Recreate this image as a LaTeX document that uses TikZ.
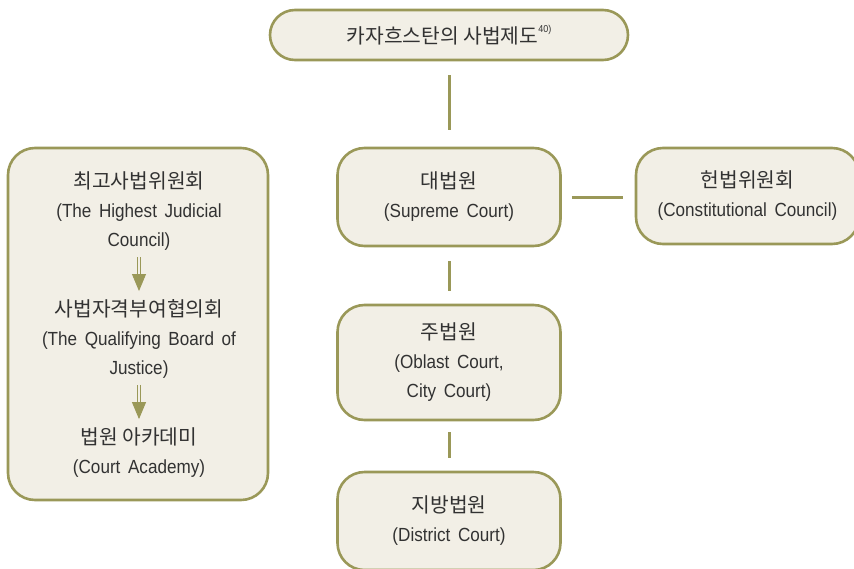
\documentclass[tikz,border=0pt]{standalone}
\usepackage{fontspec}
\setmainfont{Liberation Sans}[FakeStretch=0.9,WordSpace=1.6]
\newfontfamily\kr{Noto Sans CJK KR}[Scale=1.07]
\usetikzlibrary{arrows.meta}

\definecolor{rim}{RGB}{154,152,88}
\definecolor{paper}{RGB}{242,239,230}
\definecolor{ink}{RGB}{50,50,50}

\begin{document}
\begin{tikzpicture}[x=1pt,y=-1pt,
	every node/.style={font=\fontsize{19}{29}\selectfont,text=ink,align=center},
	box/.style={draw=rim,fill=paper,line width=2.6pt,rounded corners=27pt,
		minimum width=223pt,minimum height=98pt},
	link/.style={draw=rim,line width=3pt,shorten <=14pt,shorten >=13pt},
	down/.style={draw=rim,line width=0.9pt,double=paper,double distance=2.6pt,
		-{Triangle[width=14pt,length=17pt,fill=rim]}}]

\useasboundingbox (0,0) rectangle (854,568);

% title
\node [box,minimum width=358pt,minimum height=50pt,rounded corners=25pt]
	(top) at (449,35) {{\kr 카자흐스탄의 사법제도}\raisebox{1.1ex}{\fontsize{10}{10}\selectfont 40)}};

% courts
\node [box] (sup) at (449,197) {{\kr 대법원}\\(Supreme Court)};
\node [box,minimum height=96pt] (con) at (747.5,196) {{\kr 헌법위원회}\\(Constitutional Council)};
\node [box,minimum height=115pt] (obl) at (449,362.5) {{\kr 주법원}\\(Oblast Court,\\City Court)};
\node [box] (dis) at (449,521) {{\kr 지방법원}\\(District Court)};

% judicial bodies
\node [box,minimum width=260pt,minimum height=352pt] (jud) at (138,324) {};
\node (hj) at (139,211.5) {{\kr 최고사법위원회}\\(The Highest Judicial\\Council)};
\node (qb) at (139,339) {{\kr 사법자격부여협의회}\\(The Qualifying Board of\\Justice)};
\node (ca) at (139,452.5) {{\kr 법원 아카데미}\\(Court Academy)};

\draw [link,shorten >=17pt] (top) -- (sup);
\draw [link] (sup) -- (obl);
\draw [link,shorten <=11pt] (obl) -- (dis);
\draw [link,shorten <=10pt,shorten >=12pt] (sup) -- (sup -| con.west);

\draw [down,shorten <=3pt,shorten >=5pt] (hj.south) -- (qb.north);
\draw [down,shorten <=3pt,shorten >=5pt] (qb.south) -- (ca.north);

\end{tikzpicture}
\end{document}
